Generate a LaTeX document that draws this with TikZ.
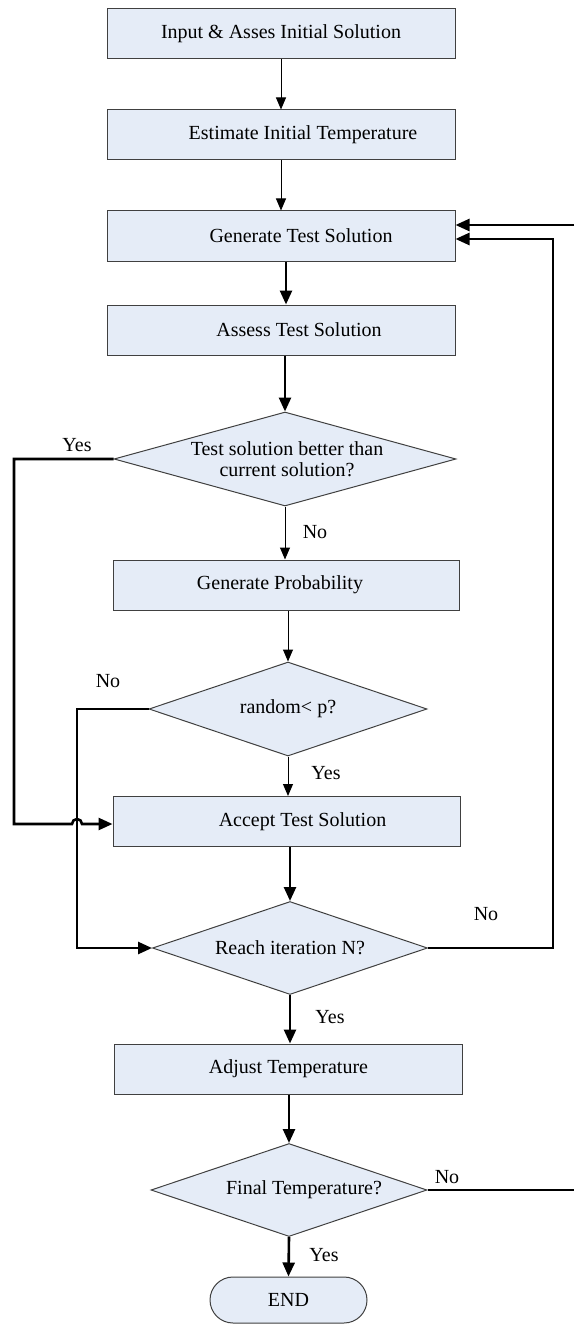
\documentclass[tikz,border=0pt]{standalone}
\usepackage{fontspec}
\setmainfont{Liberation Serif}
\usetikzlibrary{shapes.geometric,arrows.meta}
\definecolor{boxfill}{RGB}{229,236,247}
\definecolor{boxline}{RGB}{64,64,64}
\begin{document}
\begin{tikzpicture}[x=1pt,y=-1pt,
  every node/.style={font=\fontsize{20}{21}\selectfont},
  stepbox/.style={draw=boxline,fill=boxfill,line width=1pt,minimum width=348pt,minimum height=50pt,inner sep=0pt},
  decision/.style={diamond,draw=boxline,fill=boxfill,line width=1pt,inner sep=0pt},
  terminal/.style={draw=boxline,fill=boxfill,line width=1pt,rounded corners=23pt,minimum width=157pt,minimum height=46pt,inner sep=0pt},
  txt/.style={inner sep=0pt,align=center},
  flowthin/.style={line width=1pt,-{Triangle[length=12pt,width=10pt]}},
  flowbold/.style={line width=2.6pt,-{Triangle[length=14pt,width=12pt]}},
  boldline/.style={line width=2.6pt},
  ]
\useasboundingbox (0,0) rectangle (574,1324);

% process steps and decisions
\node[stepbox, label={[txt]center:Input \& Asses Initial Solution}] (b1) at (281,34) {};
\node[stepbox, label={[txt,xshift=22pt]center:Estimate Initial Temperature}] (b2) at (281,135) {};
\node[stepbox, label={[txt,xshift=20pt]center:Generate Test Solution}] (b3) at (281,236) {};
\node[stepbox, label={[txt,xshift=18pt]center:Assess Test Solution}] (b4) at (281,330) {};
\node[decision, minimum width=342pt, minimum height=94pt,
      label={[txt,xshift=2pt]center:{Test solution better than\\current solution?}}] (d1) at (285,459) {};
\node[stepbox, minimum width=346pt, label={[txt,xshift=-6pt]center:Generate Probability}] (b5) at (286,585) {};
\node[decision, minimum width=278pt, minimum height=94pt, label={[txt]center:random< p?}] (d2) at (288,709) {};
\node[stepbox, minimum width=347pt, label={[txt,xshift=16pt]center:Accept Test Solution}] (b6) at (286.5,821.5) {};
\node[decision, minimum width=275pt, minimum height=93pt, label={[txt]center:Reach iteration N?}] (d3) at (290,948) {};
\node[stepbox, label={[txt]center:Adjust Temperature}] (b7) at (288.5,1069) {};
\node[decision, minimum width=276pt, minimum height=93pt, label={[txt,xshift=15pt]center:Final Temperature?}] (d4) at (289,1190) {};
\node[terminal, label={[txt]center:END}] (e) at (288.5,1300) {};

% helper points for the side routes
\coordinate (inA) at (574,225);
\coordinate (outA) at (574,1190);
\coordinate (loopTop) at (553,239);
\coordinate (yesCorner) at (14,824);
\coordinate (hopC) at (77,824);
\coordinate (noCorner) at (77,709);

% main flow
\draw[flowthin] (b1) -- (b2);
\draw[flowthin] (b2) -- (b3);
\draw[flowbold] ([xshift=5pt]b3.south) -- ([xshift=5pt]b4.north);
\draw[flowbold] ([xshift=4pt]b4.south) -- (d1.north);
\draw[flowthin] (d1.south) -- (d1.south |- b5.north);
\draw[flowthin] (d2.north |- b5.south) -- (d2.north);
\draw[flowthin] (d2.south) -- (d2.south |- b6.north);
\draw[flowbold] (d3.north |- b6.south) -- (d3.north);
\draw[flowbold] (d3.south) -- (d3.south |- b7.north);
\draw[flowbold] (d4.north |- b7.south) -- (d4.north);
\draw[flowbold] (d4.south) -- (e.north);

% loops on the right
\draw[flowbold] (inA) -- (inA -| b3.east);
\draw[flowbold] (d3.east) -- (d3.east -| loopTop) -- (loopTop) -- (loopTop -| b3.east);
\draw[boldline] (d4.east) -- (outA);

% bypass routes on the left
\draw[flowbold] (d1.west) -| (yesCorner) -- ([xshift=-5pt]hopC)
  arc[start angle=180,end angle=360,radius=5] -- (hopC -| b6.west);
\draw[flowbold] (d2.west) -- (noCorner) -- (noCorner |- d3.west) -- (d3.west);

% branch labels
\node[txt] (yes1) at (77,445) {Yes};
\node[txt] (no1) at (315,532) {No};
\node[txt] (no2) at (108,681) {No};
\node[txt] (yes2) at (326,773) {Yes};
\node[txt] (no3) at (486,914) {No};
\node[txt] (yes3) at (330,1017) {Yes};
\node[txt] (no4) at (447,1177) {No};
\node[txt] (yes4) at (324,1255) {Yes};
\end{tikzpicture}
\end{document}
